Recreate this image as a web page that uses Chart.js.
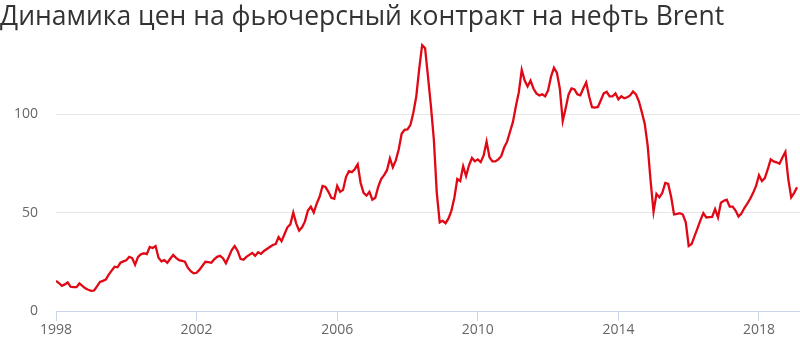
<!DOCTYPE html>
<html>
<head>
<meta charset="utf-8">
<script src="https://cdn.jsdelivr.net/npm/chart.js@4.4.1/dist/chart.umd.min.js"></script>
<style>
  body { margin: 0; background: #fff; }
  #box { width: 800px; height: 348px; }
</style>
</head>
<body>
<div id="box"><canvas id="brent-chart" width="800" height="348"></canvas></div>
<script>
var title = 'Динамика цен на фьючерсный контракт на нефть Brent';
var startYear = 1998;
var tickYears = [1998, 2002, 2006, 2010, 2014, 2018];
var yTicks = [0, 50, 100];

// monthly prices, USD per barrel, Jan 1998 .. Feb 2019
var p1998 = [15.3, 14.2, 12.8, 13.5, 14.5, 12.3, 12.1, 12.1, 14.0, 12.8, 11.5, 10.8];
var p1999 = [10.2, 10.4, 12.5, 14.8, 15.3, 16.0, 18.5, 20.5, 22.5, 22.2, 24.5, 25.2];
var p2000 = [25.8, 27.5, 26.9, 23.5, 27.5, 28.8, 29.3, 28.9, 32.5, 32.0, 33.0, 27.0];
var p2001 = [25.2, 25.8, 24.5, 26.5, 28.4, 27.0, 25.8, 25.5, 25.0, 22.0, 20.2, 19.1];
var p2002 = [19.4, 21.0, 23.0, 25.0, 24.8, 24.5, 26.2, 27.5, 28.0, 26.8, 24.2, 27.5];
var p2003 = [31.0, 33.0, 30.5, 26.5, 26.0, 27.5, 28.5, 29.5, 28.0, 29.8, 29.0, 30.5];
var p2004 = [31.5, 32.5, 33.5, 34.0, 37.5, 35.5, 39.0, 42.5, 44.0, 50.0, 44.5, 40.8];
var p2005 = [42.5, 45.5, 51.0, 53.0, 50.0, 54.5, 58.0, 63.5, 63.0, 60.5, 57.5, 57.0];
var p2006 = [63.5, 60.5, 61.5, 68.0, 71.0, 70.5, 72.0, 74.5, 65.0, 60.0, 58.6, 60.5];
var p2007 = [56.5, 57.5, 63.0, 67.0, 69.0, 71.5, 77.5, 73.0, 76.5, 82.0, 90.0, 92.0];
var p2008 = [92.2, 94.5, 100.7, 109.0, 123.0, 135.0, 133.5, 119.0, 104.0, 87.0, 60.0, 45.0];
var p2009 = [45.8, 44.6, 47.0, 51.0, 57.5, 67.0, 66.0, 73.5, 68.5, 74.0, 77.7, 76.0];
var p2010 = [77.0, 75.6, 79.0, 86.0, 78.0, 76.0, 76.0, 77.0, 78.6, 83.0, 86.0, 91.0];
var p2011 = [96.0, 104.0, 111.0, 122.5, 117.0, 114.0, 117.0, 113.0, 110.5, 109.5, 110.0, 109.0];
var p2012 = [112.0, 119.0, 123.5, 121.0, 113.0, 96.5, 103.0, 110.0, 113.0, 112.5, 110.0, 109.5];
var p2013 = [113.0, 116.0, 109.0, 103.5, 103.3, 103.6, 107.0, 110.5, 111.3, 109.0, 109.0, 110.5];
var p2014 = [107.5, 109.0, 108.0, 108.5, 109.5, 111.5, 110.0, 106.5, 101.0, 95.0, 84.0, 66.0];
var p2015 = [50.5, 59.5, 57.7, 60.0, 65.0, 64.5, 58.0, 49.0, 49.3, 49.7, 49.0, 45.0];
var p2016 = [33.0, 34.0, 38.0, 42.0, 46.0, 49.7, 47.5, 47.7, 47.8, 51.7, 47.5, 55.0];
var p2017 = [56.0, 56.5, 53.0, 53.0, 51.0, 48.0, 49.5, 52.3, 54.5, 57.0, 60.0, 63.5];
var p2018 = [69.0, 66.0, 67.5, 72.0, 77.0, 76.0, 75.5, 74.8, 78.0, 80.8, 67.0, 57.7];
var p2019 = [60.0, 62.8];

var prices = [].concat(p1998, p1999, p2000, p2001, p2002, p2003, p2004, p2005, p2006,
  p2007, p2008, p2009, p2010, p2011, p2012, p2013, p2014, p2015, p2016, p2017, p2018, p2019);

var points = prices.map(function (v, i) { return { x: i, y: v }; });

var ctx = document.getElementById('brent-chart');
var brentChart = new Chart(ctx, {
  type: 'line',
  data: {
    datasets: [{
      label: 'Brent',
      data: points,
      borderColor: 'rgb(224,8,20)',
      borderWidth: 2.3,
      pointRadius: 0,
      tension: 0,
      fill: false
    }]
  }, //data
  options: {
    responsive: false,
    animation: false,
    layout: { padding: 0 },
    plugins: {
      legend: { display: false },
      tooltip: { enabled: false },
      title: {
        display: true,
        text: title,
        align: 'start',
        color: '#333333',
        font: { family: 'Open Sans', size: 26.5, weight: 'normal' },
        padding: { top: 2, bottom: 1.5 }
      }
    }, //plugins
    scales: {
      x: {
        type: 'linear',
        min: 0,
        max: 254,
        afterBuildTicks: function (scale) {
          scale.ticks = tickYears.map(function (y) { return { value: (y - startYear) * 12 }; });
        },
        afterFit: function (scale) { scale.height = 37; },
        ticks: {
          color: '#666666',
          font: { family: 'Open Sans', size: 14 },
          padding: 1,
          maxRotation: 0,
          callback: function (v) { return String(startYear + v / 12); }
        },
        grid: { drawOnChartArea: false, tickLength: 10, color: '#ccd6eb' },
        border: { color: '#ccd6eb' }
      },
      y: {
        min: 0,
        max: 140,
        afterBuildTicks: function (scale) {
          scale.ticks = yTicks.map(function (v) { return { value: v }; });
        },
        afterFit: function (scale) { scale.width = 56; },
        ticks: {
          color: '#666666',
          font: { family: 'Open Sans', size: 14 },
          padding: 18
        },
        grid: { color: '#e6e6e6', drawTicks: false },
        border: { display: false }
      }
    } //scales
  } //options
}); //brentChart
</script>
</body>
</html>
